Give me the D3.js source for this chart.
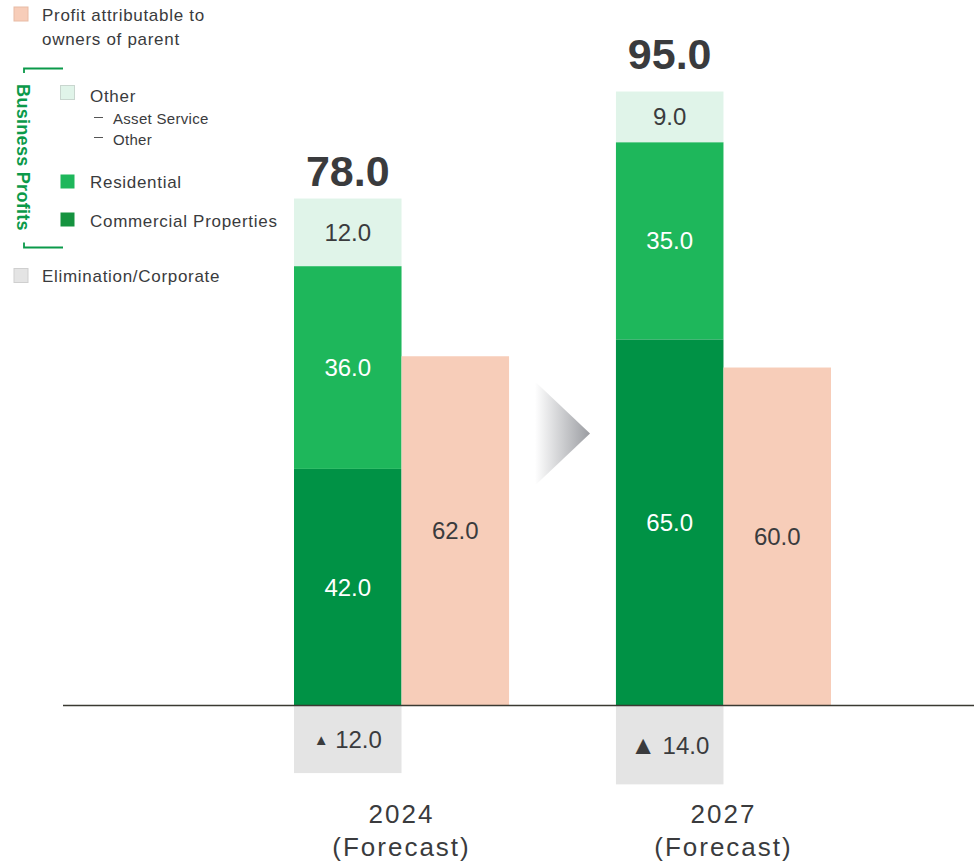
<!DOCTYPE html>
<html>
<head>
<meta charset="utf-8">
<script src="https://cdn.jsdelivr.net/npm/d3@7"></script>
<style>
  html, body { margin: 0; padding: 0; background: #fff; }
  svg { display: block; font-family: "Liberation Sans", Arial, sans-serif; }
</style>
</head>
<body>
<svg id="chart" width="974" height="863"></svg>
<script>
// ---- data ----
const categories = ["2024", "2027"];
const categoryNotes = ["(Forecast)", "(Forecast)"];
const commercial = [42.0, 65.0];
const residential = [36.0, 35.0];
const otherBiz = [12.0, 9.0];
const elimination = [-12.0, -14.0];
const profit = [62.0, 60.0];
const totals = [78.0, 95.0];

// ---- styles ----
const C = {
  commercial: "#009245",
  residential: "#1eb75b",
  other: "#e0f4e9",
  profit: "#f7cdb9",
  elim: "#e4e4e4",
  text: "#3a3b3d",
  green: "#0b9a4a",
  axis: "#3a3a32"
};
const totalGap = [13, 23];
const triSize = [15, 26];

const svg = d3.select("#chart");
const W = 974, H = 863;

const x = d3.scaleBand().domain(categories).range([294, 831]).paddingInner(0.332).paddingOuter(0);
const xs = d3.scaleBand().domain(["bp", "profit"]).range([0, x.bandwidth()]).padding(0);
const y = d3.scaleLinear().domain([0, 100]).range([705.5, 142.2]);

// arrow gradient
const defs = svg.append("defs");
const grad = defs.append("linearGradient").attr("id", "arrowGrad").attr("x1", "0%").attr("x2", "100%");
grad.append("stop").attr("offset", "0%").attr("stop-color", "#ffffff");
grad.append("stop").attr("offset", "100%").attr("stop-color", "#9a9ca1");

// stacked business profit bars
const segs = [];
categories.forEach((c, i) => {
  let base = 0;
  [["commercial", commercial[i], "#fff"], ["residential", residential[i], "#fff"], ["other", otherBiz[i], C.text]].forEach(([k, v, tc]) => {
    segs.push({ c, k, y0: base, y1: base + v, v, tc });
    base += v;
  });
  segs.push({ c, k: "elim", y0: elimination[i], y1: 0, v: -elimination[i], tc: C.text, neg: true, i });
});

const g = svg.append("g");
g.selectAll("rect.seg").data(segs).join("rect")
  .attr("class", "seg")
  .attr("x", d => x(d.c) + xs("bp"))
  .attr("width", xs.bandwidth())
  .attr("y", d => y(d.y1))
  .attr("height", d => y(d.y0) - y(d.y1))
  .attr("fill", d => C[d.k]);

// profit bars
g.selectAll("rect.profit").data(categories).join("rect")
  .attr("class", "profit")
  .attr("x", d => x(d) + xs("profit"))
  .attr("width", xs.bandwidth())
  .attr("y", (d, i) => y(profit[i]))
  .attr("height", (d, i) => y(0) - y(profit[i]))
  .attr("fill", C.profit);

// segment labels
segs.forEach(d => {
  const cx = x(d.c) + xs("bp") + xs.bandwidth() / 2;
  const cy = (y(d.y0) + y(d.y1)) / 2;
  const t = g.append("text")
    .attr("x", cx).attr("y", cy)
    .attr("text-anchor", "middle").attr("dominant-baseline", "central")
    .attr("font-size", 24).attr("fill", d.tc);
  if (d.neg) {
    t.append("tspan").attr("font-size", triSize[d.i]).text("▲");
    t.append("tspan").text("\u00a0" + d.v.toFixed(1));
  } else {
    t.text(d.v.toFixed(1));
  }
});

// profit labels
categories.forEach((c, i) => {
  g.append("text")
    .attr("x", x(c) + xs("profit") + xs.bandwidth() / 2)
    .attr("y", (y(0) + y(profit[i])) / 2)
    .attr("text-anchor", "middle").attr("dominant-baseline", "central")
    .attr("font-size", 24).attr("fill", C.text)
    .text(profit[i].toFixed(1));
});

// totals
categories.forEach((c, i) => {
  const top = commercial[i] + residential[i] + otherBiz[i];
  g.append("text")
    .attr("x", x(c) + xs("bp") + xs.bandwidth() / 2)
    .attr("y", y(top) - totalGap[i])
    .attr("text-anchor", "middle")
    .attr("font-size", 43).attr("font-weight", "bold").attr("fill", C.text)
    .text(totals[i].toFixed(1));
});

// baseline
g.append("line")
  .attr("x1", 63).attr("x2", W)
  .attr("y1", y(0)).attr("y2", y(0))
  .attr("stroke", C.axis).attr("stroke-width", 1.6);

// category labels
categories.forEach((c, i) => {
  const cx = x(c) + x.bandwidth() / 2;
  g.append("text").attr("x", cx).attr("y", 823)
    .attr("text-anchor", "middle").attr("font-size", 26).attr("letter-spacing", 2)
    .attr("fill", C.text).text(c);
  g.append("text").attr("x", cx).attr("y", 856)
    .attr("text-anchor", "middle").attr("font-size", 26).attr("letter-spacing", 2)
    .attr("fill", C.text).text(categoryNotes[i]);
});

// arrow between groups
{
  const gapL = x(categories[0]) + x.bandwidth();
  const gapR = x(categories[1]);
  const cx = (gapL + gapR) / 2;
  const cy = y(48.3);
  const w = 55, h = 104;
  g.append("path")
    .attr("d", `M${cx - w / 2},${cy - h / 2} L${cx + w / 2},${cy} L${cx - w / 2},${cy + h / 2} Z`)
    .attr("fill", "url(#arrowGrad)");
}

// ---- legend ----
const L = svg.append("g").attr("font-size", 17).attr("fill", C.text).attr("letter-spacing", 0.7);
function sq(xp, yp, fill, stroke) {
  L.append("rect").attr("x", xp + 0.5).attr("y", yp + 0.5).attr("width", 14).attr("height", 14)
    .attr("fill", fill).attr("stroke", stroke || "none").attr("stroke-width", 1);
}
sq(13.5, 6.5, C.profit, "#e8bba5");
L.append("text").attr("x", 42).attr("y", 21).text("Profit attributable to");
L.append("text").attr("x", 42).attr("y", 45).text("owners of parent");

sq(60, 85, C.other, "#c9d6cf");
L.append("text").attr("x", 90).attr("y", 102).text("Other");
L.append("line").attr("x1", 94).attr("x2", 103).attr("y1", 117.5).attr("y2", 117.5).attr("stroke", "#555").attr("stroke-width", 1);
L.append("text").attr("x", 113).attr("y", 124).attr("font-size", 15).attr("letter-spacing", 0.3).text("Asset Service");
L.append("line").attr("x1", 94).attr("x2", 103).attr("y1", 137.5).attr("y2", 137.5).attr("stroke", "#555").attr("stroke-width", 1);
L.append("text").attr("x", 113).attr("y", 144.5).attr("font-size", 15).attr("letter-spacing", 0.3).text("Other");

sq(60, 174, C.residential);
L.append("text").attr("x", 90).attr("y", 188).text("Residential");
sq(60, 212, "#15933f");
L.append("text").attr("x", 90).attr("y", 227).text("Commercial Properties");

sq(13.5, 268, C.elim, "#cfcfcf");
L.append("text").attr("x", 42).attr("y", 282).text("Elimination/Corporate");

// bracket
svg.append("path")
  .attr("d", "M24,73 L24,68.5 L63,68.5 M24,242.5 L24,247.5 L63,247.5")
  .attr("fill", "none").attr("stroke", C.green).attr("stroke-width", 1.8);
svg.append("text")
  .attr("transform", "translate(16.5,157.5) rotate(90)")
  .attr("text-anchor", "middle")
  .attr("font-size", 18).attr("font-weight", "bold").attr("letter-spacing", 0.3)
  .attr("fill", C.green)
  .text("Business Profits");
</script>
</body>
</html>
